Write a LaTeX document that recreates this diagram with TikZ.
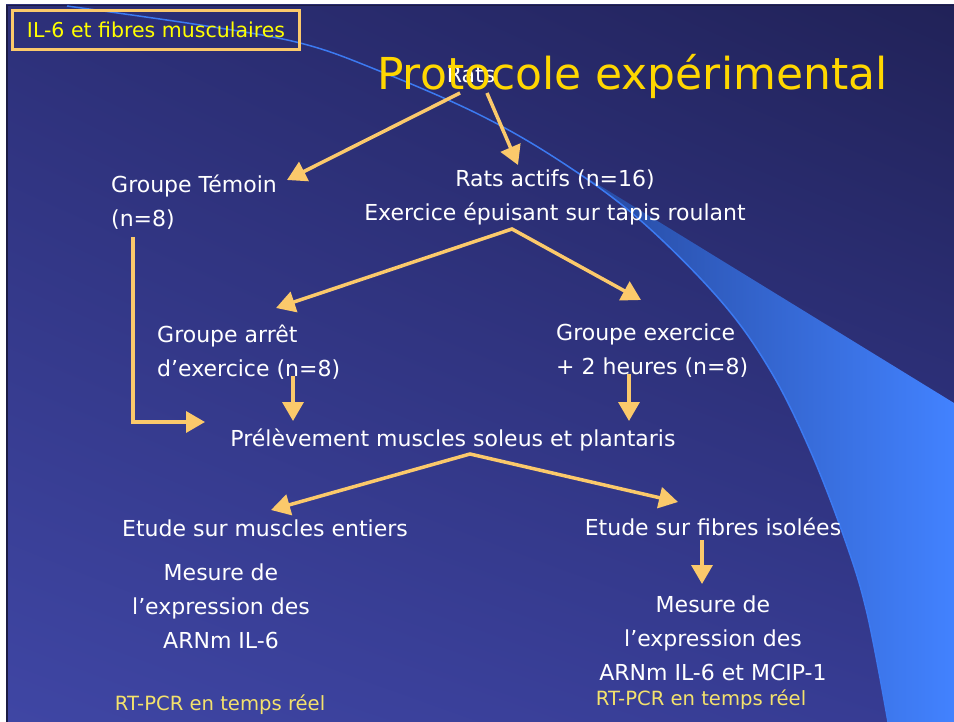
\documentclass[tikz,border=0pt]{standalone}
\usepackage{fontspec}
\setmainfont{DejaVu Sans}
\usetikzlibrary{arrows.meta,shadings}
\definecolor{bgTL}{HTML}{2D3079}
\definecolor{bgTR}{HTML}{212258}
\definecolor{bgBL}{HTML}{3F46A4}
\definecolor{bgBR}{HTML}{363B92}
\definecolor{wedgeA}{HTML}{25469A}
\definecolor{wedgeB}{HTML}{3A72E8}
\definecolor{wedgeC}{HTML}{4282FF}
\definecolor{swoosh}{HTML}{3C7AF2}
\definecolor{arrowc}{HTML}{FBC96B}
\definecolor{titlec}{HTML}{FFD700}
\definecolor{labelc}{HTML}{FFFF00}
\definecolor{rtc}{HTML}{F4E26C}
\definecolor{edgec}{HTML}{1C1C44}
\begin{document}
\begin{tikzpicture}[x=1pt,y=-1pt,
  txt/.style={text=white,inner sep=0pt,font=\fontsize{22}{34}\selectfont},
  rtpcr/.style={text=rtc,inner sep=0pt,font=\fontsize{19.6}{24}\selectfont},
  arr/.style={draw=arrowc,line width=3.5pt,-{Triangle[length=19pt,width=21pt]}},
  darr/.style={draw=arrowc,line width=3.5pt,{Triangle[length=19pt,width=21pt]}-{Triangle[length=19pt,width=21pt]}}]
\useasboundingbox (0,0) rectangle (954,722);
\fill[white] (0,0) rectangle (954,722);
% slide background
\shade[upper left=bgTL,upper right=bgTR,lower left=bgBL,lower right=bgBR] (6,5) rectangle (954,722);
\draw[edgec,line width=1.5pt] (6.75,722) -- (6.75,5.75) -- (954,5.75);
% swoosh wedge
\shade[left color=wedgeA,middle color=wedgeB,right color=wedgeC]
  plot[smooth,tension=0.6] coordinates {(563,163) (640,220) (720,300) (770,370) (810,450) (845,540) (867,613) (888,722)}
  -- (954,722) -- (954,403) -- cycle;
\draw[swoosh,line width=1.5pt]
  plot[smooth,tension=0.6] coordinates {(67,6) (200,25) (300,43) (377,70) (480,115) (563,163) (640,220) (720,300) (770,370) (810,450) (845,540) (867,613) (888,722)};
% topic label
\node[draw=arrowc,line width=3pt,minimum width=287pt,minimum height=39pt,inner sep=0pt,
      text=labelc,font=\fontsize{20.5}{24}\selectfont] (topic) at (156,30) {IL-6 et fibres musculaires};
% texts
\node[txt,anchor=base] (rats) at (471,83) {Rats};
\node[anchor=base west,inner sep=0pt,text=titlec,font=\fontsize{44}{50}\selectfont] (title) at (377,90) {Protocole expérimental};
\node[txt,anchor=base west] (temoin) at (111,193) {\begin{tabular}[t]{@{}l@{}}Groupe Témoin\\(n=8)\end{tabular}};
\node[txt,anchor=base] (actifs) at (555,187) {\begin{tabular}[t]{@{}c@{}}Rats actifs (n=16)\\Exercice épuisant sur tapis roulant\end{tabular}};
\node[txt,anchor=base west] (arret) at (157,342) {\begin{tabular}[t]{@{}l@{}}Groupe arrêt\\d’exercice (n=8)\end{tabular}};
\node[txt,anchor=base west] (exo) at (556,341) {\begin{tabular}[t]{@{}l@{}}Groupe exercice\\+ 2 heures (n=8)\end{tabular}};
\node[txt,anchor=base] (prel) at (453,446) {Prélèvement muscles soleus et plantaris};
\node[txt,anchor=base] (entiers) at (265,536) {Etude sur muscles entiers};
\node[txt,anchor=base] (fibres) at (713,535) {Etude sur fibres isolées};
\node[txt,anchor=base] (mesL) at (221,580) {\begin{tabular}[t]{@{}c@{}}Mesure de\\l’expression des\\ARNm IL-6\end{tabular}};
\node[txt,anchor=base] (mesR) at (713,612) {\begin{tabular}[t]{@{}c@{}}Mesure de\\l’expression des\\ARNm IL-6 et MCIP-1\end{tabular}};
\node[rtpcr,anchor=base] (rtL) at (220,710) {RT-PCR en temps réel};
\node[rtpcr,anchor=base] (rtR) at (701,705) {RT-PCR en temps réel};
% connector points
\coordinate (ratsL) at (460,93);
\coordinate (ratsR) at (487,93);
\coordinate (temoinIn) at (287,180);
\coordinate (actifsIn) at (518,165);
\coordinate (actifsOut) at (512,229);
\coordinate (arretIn) at (276,308);
\coordinate (exoIn) at (641,300);
\coordinate (temoinOut) at (133,237);
\coordinate (corner) at (133,422);
\coordinate (prelInL) at (205,422);
\coordinate (arretOut) at (293,376);
\coordinate (prelInA) at (293,421);
\coordinate (exoOut) at (629,374);
\coordinate (prelInB) at (629,421);
\coordinate (prelOut) at (470,454);
\coordinate (entiersIn) at (271,510);
\coordinate (fibresIn) at (678,502);
\coordinate (fibresOut) at (702,540);
\coordinate (mesRIn) at (702,584);
% connectors
\draw[arr] (ratsL) -- (temoinIn);
\draw[arr] (ratsR) -- (actifsIn);
\draw[darr] (arretIn) -- (actifsOut) -- (exoIn);
\draw[arr] (temoinOut) -- (corner) -- (prelInL);
\draw[arr] (arretOut) -- (prelInA);
\draw[arr] (exoOut) -- (prelInB);
\draw[darr] (entiersIn) -- (prelOut) -- (fibresIn);
\draw[arr] (fibresOut) -- (mesRIn);
\end{tikzpicture}
\end{document}
